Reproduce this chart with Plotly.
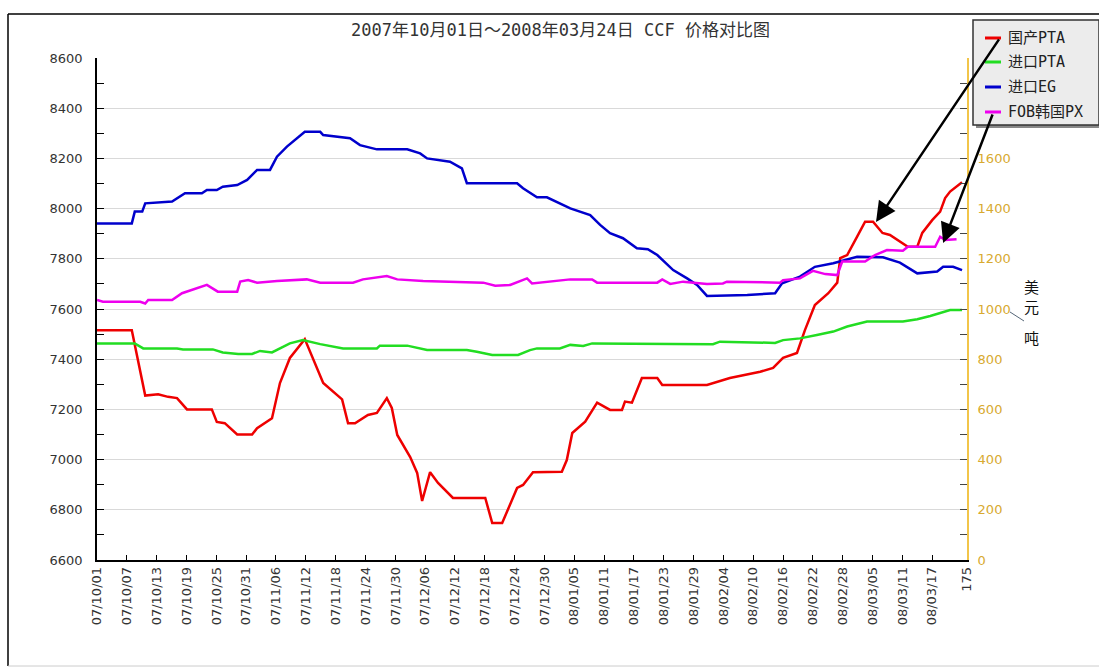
import plotly.graph_objects as go

# ---------------- data ----------------
tick_days = list(range(0, 169, 6)) + [175]
tick_labels = ["07/10/01", "07/10/07", "07/10/13", "07/10/19", "07/10/25", "07/10/31",
               "07/11/06", "07/11/12", "07/11/18", "07/11/24", "07/11/30", "07/12/06",
               "07/12/12", "07/12/18", "07/12/24", "07/12/30", "08/01/05", "08/01/11",
               "08/01/17", "08/01/23", "08/01/29", "08/02/04", "08/02/10", "08/02/16",
               "08/02/22", "08/02/28", "08/03/05", "08/03/11", "08/03/17", "175"]

# 国产PTA (元/吨, left axis)
pta_cn_day = [0, 7.0, 9.7, 12.3, 14.3, 16.1, 18.1, 23.1, 24.1, 25.7, 28.2, 31.2, 32.2, 35.2,
              36.8, 38.8, 41.8, 45.5, 49.3, 50.5, 51.9, 54.5, 56.3, 58.3, 59.3, 60.4, 63.0,
              64.4, 65.4, 67.0, 68.6, 71.6, 78.1, 79.5, 81.5, 84.5, 85.7, 87.7, 93.5, 94.5,
              95.6, 98.2, 100.6, 103.2, 105.6, 106.2, 107.6, 109.6, 112.7, 113.7, 122.7,
              127.3, 133.4, 136.0, 138.0, 140.8, 142.4, 144.4, 147.1, 148.9, 149.5, 150.9,
              152.9, 154.5, 156.1, 158.0, 159.5, 163.1, 165.0, 166.0, 168.0, 169.6, 170.6,
              171.6, 174.0]
pta_cn_val = [7515, 7515, 7255, 7260, 7250, 7245, 7200, 7200, 7150, 7145, 7100, 7100, 7125, 7165,
              7305, 7405, 7480, 7305, 7240, 7145, 7145, 7178, 7186, 7245, 7206, 7098, 7010,
              6947, 6835, 6950, 6907, 6847, 6847, 6747, 6747, 6887, 6899, 6950, 6952, 6998,
              7106, 7151, 7227, 7198, 7198, 7231, 7227, 7325, 7325, 7297, 7297,
              7325, 7350, 7365, 7405, 7425, 7516, 7616, 7663, 7705, 7803, 7815,
              7888, 7948, 7948, 7903, 7895, 7848, 7848, 7903, 7954, 7988, 8042,
              8068, 8105]

# 进口PTA (美元/吨, right axis)
pta_im_day = [0, 7.6, 9.3, 16.1, 17.3, 23.3, 25.3, 28.4, 31.2, 32.8, 35.2, 38.8, 41.4, 44.9,
              49.5, 56.3, 56.9, 62.4, 66.4, 74.4, 76.4, 79.5, 84.7, 87.1, 88.5, 93.1, 95.2,
              97.8, 99.6, 123.9, 125.3, 136.4, 138.0, 141.4, 144.8, 148.1, 150.9, 154.9,
              162.1, 165.0, 167.6, 171.6, 174.0]
pta_im_val = [863, 863, 843, 843, 839, 839, 827, 821, 821, 833, 827, 863, 876, 860,
              843, 843, 854, 854, 837, 837, 830, 817, 817, 836, 843, 843, 857,
              853, 863, 860, 870, 865, 876, 883, 896, 910, 930, 950,
              950, 959, 972, 996, 996]

# 进口EG (美元/吨, right axis)
eg_day = [0, 7.0, 7.6, 9.1, 9.7, 12.1, 15.1, 17.7, 21.1, 22.1, 24.1, 25.3, 28.2, 30.2, 32.2,
          34.8, 36.2, 38.2, 41.8, 44.9, 45.5, 50.9, 52.9, 56.3, 62.4, 65.0, 66.4, 71.0, 73.4,
          74.4, 84.5, 85.7, 88.5, 90.5, 95.2, 99.2, 101.2, 103.2, 105.8, 108.6, 110.8, 112.7,
          115.9, 118.7, 120.7, 122.7, 130.8, 136.4, 137.8, 141.4, 144.4, 148.1, 150.9, 152.9,
          158.1, 161.5, 165.0, 169.0, 170.2, 172.2, 174.0]
eg_val = [1341, 1341, 1388, 1388, 1421, 1425, 1428, 1461, 1461, 1474, 1474, 1487, 1494, 1514, 1554,
          1554, 1607, 1647, 1706, 1706, 1693, 1680, 1653, 1636, 1636, 1620, 1600, 1587, 1560,
          1501, 1501, 1481, 1445, 1445, 1401, 1374, 1335, 1302, 1282, 1242, 1238, 1215,
          1155, 1122, 1096, 1052, 1056, 1063, 1102, 1129, 1168, 1182, 1198, 1208,
          1206, 1185, 1142, 1149, 1168, 1168, 1155]

# FOB韩国PX (美元/吨, right axis)
px_day = [0, 1.2, 8.7, 9.7, 10.3, 15.1, 17.1, 19.3, 22.1, 24.3, 28.2, 28.8, 30.4, 32.2, 36.2,
          42.2, 44.9, 51.5, 53.5, 58.3, 60.4, 65.6, 77.7, 80.1, 83.1, 86.5, 87.5, 95.2, 99.6,
          100.6, 112.7, 113.7, 115.3, 117.9, 122.7, 125.9, 126.7, 137.4, 138.0, 141.4, 144.0,
          146.5, 148.9, 149.9, 154.5, 156.5, 158.9, 162.1, 163.1, 168.6, 169.6, 170.6, 172.9]
px_val = [1036, 1029, 1029, 1022, 1036, 1036, 1063, 1078, 1096, 1069, 1069, 1109, 1115, 1105, 1112,
          1118, 1105, 1105, 1118, 1131, 1118, 1112, 1105, 1093, 1096, 1122, 1102, 1118, 1118,
          1105, 1105, 1118, 1100, 1109, 1100, 1102, 1109, 1105, 1115, 1122, 1152,
          1139, 1135, 1189, 1189, 1215, 1235, 1232, 1248, 1248, 1288, 1275, 1278]

series_names = ["国产PTA", "进口PTA", "进口EG", "FOB韩国PX"]
series_colors = ["#ee0000", "#22dd22", "#0000cc", "#ee00ee"]

# ---------------- figure ----------------
W, H = 1099, 668
L, R, T, B = 97, 967, 58, 560


def px_x(p):
    return (p - L) / (R - L)


def px_y(p):
    return (B - p) / (B - T)


fig = go.Figure()
fig.add_trace(go.Scatter(x=pta_cn_day, y=pta_cn_val, mode="lines", name=series_names[0],
                         line=dict(color=series_colors[0], width=2.5), yaxis="y"))
fig.add_trace(go.Scatter(x=pta_im_day, y=pta_im_val, mode="lines", name=series_names[1],
                         line=dict(color=series_colors[1], width=2.5), yaxis="y2"))
fig.add_trace(go.Scatter(x=eg_day, y=eg_val, mode="lines", name=series_names[2],
                         line=dict(color=series_colors[2], width=2.5), yaxis="y2"))
fig.add_trace(go.Scatter(x=px_day, y=px_val, mode="lines", name=series_names[3],
                         line=dict(color=series_colors[3], width=2.5), yaxis="y2"))

TICKFAM = "DejaVu Sans, Verdana, sans-serif"
MIXFAM = "DejaVu Sans Mono, Noto Sans CJK SC"
axis_font = dict(family=TICKFAM, size=13, color="#333333")
right_ticks = list(range(0, 2001, 200))
right_text = [str(v) if v <= 1600 else "" for v in right_ticks]

fig.update_layout(
    width=W, height=H,
    margin=dict(l=L, r=W - R, t=T, b=H - B),
    paper_bgcolor="white", plot_bgcolor="white",
    showlegend=False,
    xaxis=dict(range=[0, 175], tickvals=tick_days, ticktext=tick_labels, tickangle=-90,
               showgrid=False, zeroline=False, showline=True, linecolor="black", linewidth=1.5,
               ticks="inside", ticklen=5, tickcolor="black",
               tickfont=dict(family=TICKFAM, size=13, color="#333333")),
    yaxis=dict(range=[6600, 8600], dtick=200, tick0=6600, showgrid=True, gridcolor="#d9d9d9",
               gridwidth=1, zeroline=False, showline=True, linecolor="black", linewidth=1.5,
               ticks="inside", ticklen=7, tickcolor="black", tickfont=axis_font,
               ticklabelstandoff=10,
               minor=dict(dtick=100, tick0=6600, ticks="inside", ticklen=7, tickcolor="black",
                          showgrid=False)),
    yaxis2=dict(range=[0, 2000], overlaying="y", side="right", tickvals=right_ticks,
                ticktext=right_text, showgrid=False, zeroline=False, showline=True,
                linecolor="#f2c54a", linewidth=2, ticks="inside", ticklen=7, tickcolor="#444444",
                ticklabelstandoff=6,
                tickfont=dict(family=TICKFAM, size=13, color="#d8aa30"),
                minor=dict(dtick=100, ticks="inside", ticklen=7, tickcolor="#444444",
                           showgrid=False)),
)

shapes = []
annotations = []

# outer frame
shapes.append(dict(type="line", xref="paper", yref="paper", x0=px_x(8), x1=px_x(1099),
                   y0=px_y(14), y1=px_y(14), line=dict(color="black", width=1.5)))
shapes.append(dict(type="line", xref="paper", yref="paper", x0=px_x(8), x1=px_x(8),
                   y0=px_y(14), y1=px_y(666), line=dict(color="black", width=1.5)))
shapes.append(dict(type="line", xref="paper", yref="paper", x0=px_x(8), x1=px_x(1099),
                   y0=px_y(666), y1=px_y(666), line=dict(color="#cccccc", width=1)))

# title
annotations.append(dict(text="2007年10月01日～2008年03月24日 CCF 价格对比图", xref="paper",
                        yref="paper", x=px_x(560), y=px_y(30), xanchor="center",
                        yanchor="middle", showarrow=False,
                        font=dict(family=MIXFAM, size=17, color="#333333")))

# right axis unit
for ch, yy in [("美", 286), ("元", 306), ("吨", 337)]:
    annotations.append(dict(text=ch, xref="paper", yref="paper", x=px_x(1031), y=px_y(yy),
                            xanchor="center", yanchor="middle", showarrow=False,
                            font=dict(family="Noto Sans CJK SC", size=15, color="#111111")))
shapes.append(dict(type="line", xref="paper", yref="paper", x0=px_x(1010), x1=px_x(1024),
                   y0=px_y(312), y1=px_y(321), line=dict(color="#556677", width=1)))

# legend box (shadow + box)
shapes.append(dict(type="rect", xref="paper", yref="paper", x0=px_x(976), x1=px_x(1102),
                   y0=px_y(23), y1=px_y(128), fillcolor="#888888", line=dict(width=0),
                   layer="above"))
shapes.append(dict(type="rect", xref="paper", yref="paper", x0=px_x(973), x1=px_x(1099),
                   y0=px_y(20), y1=px_y(125), fillcolor="#ececec",
                   line=dict(color="#333333", width=1.5), layer="above"))
leg_y = [38, 62, 87, 112]
for name, color, yy in zip(series_names, series_colors, leg_y):
    shapes.append(dict(type="line", xref="paper", yref="paper", x0=px_x(985), x1=px_x(1001),
                       y0=px_y(yy), y1=px_y(yy), line=dict(color=color, width=3), layer="above"))
    annotations.append(dict(text=name, xref="paper", yref="paper", x=px_x(1006), y=px_y(yy),
                            xanchor="left", yanchor="middle", showarrow=False,
                            font=dict(family=MIXFAM, size=15, color="#222222")))

# arrows
annotations.append(dict(text="", x=156.7, y=7947, xref="x", yref="y", ax=124, ay=-184,
                        showarrow=True, arrowhead=2, arrowsize=1.6, arrowwidth=2.5,
                        arrowcolor="black"))
annotations.append(dict(text="", x=170.2, y=7863, xref="x", yref="y", ax=50, ay=-130,
                        showarrow=True, arrowhead=2, arrowsize=1.6, arrowwidth=2.5,
                        arrowcolor="black"))

fig.update_layout(shapes=shapes, annotations=annotations)
fig.write_html("out.html")
